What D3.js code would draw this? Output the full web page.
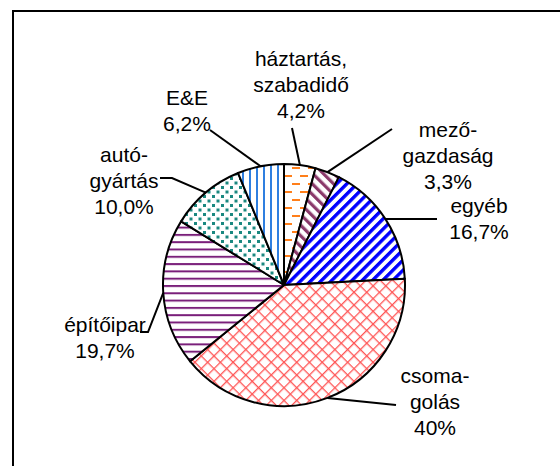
<!DOCTYPE html>
<html>
<head>
<meta charset="utf-8">
<script src="https://cdn.jsdelivr.net/npm/d3@7"></script>
<style>
  body { margin: 0; background: #fff; }
  text { font-family: 'Liberation Sans', Arial, sans-serif; fill: #000; }
</style>
</head>
<body>
<div id="chart"></div>
<script>
// slices clockwise from 12 o'clock
var categories = ['háztartás, szabadidő', 'mezőgazdaság', 'egyéb', 'csomagolás', 'építőipar', 'autógyártás', 'E&E']
var values = [4.2, 3.3, 16.7, 40, 19.7, 10.0, 6.2]
var labelLines = [
  ['háztartás,', 'szabadidő', '4,2%'],
  ['mező-', 'gazdaság', '3,3%'],
  ['egyéb', '16,7%'],
  ['csoma-', 'golás', '40%'],
  ['építőipar', '19,7%'],
  ['autó-', 'gyártás', '10,0%'],
  ['E&E', '6,2%']
]

var width = 560
var height = 466
var cx = 284
var cy = 285
var radius = 121
var fontSize = 21
var lineStep = 26

// label placement: text centre x, first baseline y, leader points from label side
var labelLayout = [
  { x: 301, y: 66, leader: [[292, 128]] },
  { x: 448, y: 137, leader: [[392, 129]] },
  { x: 479, y: 213, leader: [[437, 219]] },
  { x: 435, y: 383, leader: [[396, 405]] },
  { x: 105, y: 332, leader: [[140, 332], [148, 332]] },
  { x: 124, y: 162, leader: [[160, 178], [172, 178]] },
  { x: 187, y: 105, leader: [[210, 130]] }
]

var svg = d3.select('#chart').append('svg')
  .attr('width', width)
  .attr('height', height)

var defs = svg.append('defs')

function makePattern (id, w, h) {
  var p = defs.append('pattern')
    .attr('id', id)
    .attr('patternUnits', 'userSpaceOnUse')
    .attr('width', w)
    .attr('height', h)
  p.append('rect').attr('width', w).attr('height', h).attr('fill', '#fff')
  return p
}

// háztartás: orange horizontal dashes
var p0 = makePattern('p0', 16, 16)
p0.append('rect').attr('x', 0).attr('y', 2).attr('width', 8).attr('height', 2).attr('fill', '#ff7f1a')
p0.append('rect').attr('x', 8).attr('y', 10).attr('width', 8).attr('height', 2).attr('fill', '#ff7f1a')

// mezőgazdaság: wide downward diagonal (\)
var p1 = makePattern('p1', 7.5, 7.5)
p1.attr('patternTransform', 'rotate(-45)')
p1.append('rect').attr('x', 0).attr('y', 0).attr('width', 3.2).attr('height', 7.5).attr('fill', '#8b3a6b')

// egyéb: wide upward diagonal (/)
var p2 = makePattern('p2', 7.2, 7.2)
p2.attr('patternTransform', 'rotate(45)')
p2.append('rect').attr('x', 0).attr('y', 0).attr('width', 3.4).attr('height', 7.2).attr('fill', '#0000ff')

// csomagolás: red diagonal crosshatch
var p3 = makePattern('p3', 9, 9)
p3.attr('patternTransform', 'rotate(45)')
p3.append('rect').attr('x', 0).attr('y', 0).attr('width', 1.3).attr('height', 9).attr('fill', '#ff5555')
p3.append('rect').attr('x', 0).attr('y', 0).attr('width', 9).attr('height', 1.3).attr('fill', '#ff5555')

// építőipar: purple horizontal lines
var p4 = makePattern('p4', 8, 7.3)
p4.append('rect').attr('x', 0).attr('y', 0).attr('width', 8).attr('height', 2).attr('fill', '#7a1f7a')

// autógyártás: teal dots
var p5 = makePattern('p5', 9, 9)
p5.append('rect').attr('x', 0).attr('y', 0).attr('width', 3).attr('height', 3).attr('fill', '#1a8880')
p5.append('rect').attr('x', 4.5).attr('y', 4.5).attr('width', 3).attr('height', 3).attr('fill', '#1a8880')

// E&E: blue vertical lines
var p6 = makePattern('p6', 7, 8)
p6.append('rect').attr('x', 0).attr('y', 0).attr('width', 2).attr('height', 8).attr('fill', '#2f7fe0')

// frame, cut off by the window on the right and bottom
svg.append('rect')
  .attr('x', 13)
  .attr('y', 11)
  .attr('width', width)
  .attr('height', height)
  .attr('fill', 'none')
  .attr('stroke', '#000')
  .attr('stroke-width', 2)

var pie = d3.pie().sort(null).value(function (d) { return d })
var arcs = pie(values)

var arc = d3.arc().innerRadius(0).outerRadius(radius)

var g = svg.append('g').attr('transform', 'translate(' + cx + ',' + cy + ')')

g.selectAll('path.slice')
  .data(arcs)
  .enter().append('path')
  .attr('class', 'slice')
  .attr('d', arc)
  .attr('fill', function (d, i) { return 'url(#p' + i + ')' })
  .attr('stroke', '#000')
  .attr('stroke-width', 2)
  .attr('stroke-linejoin', 'round')

// leader lines from slice mid-angle on the rim to the label
var line = d3.line()
arcs.forEach(function (d, i) {
  var a = (d.startAngle + d.endAngle) / 2
  var rim = [cx + radius * Math.sin(a), cy - radius * Math.cos(a)]
  var pts = labelLayout[i].leader.concat([rim])
  svg.append('path')
    .attr('d', line(pts))
    .attr('fill', 'none')
    .attr('stroke', '#000')
    .attr('stroke-width', 2)
})

labelLines.forEach(function (lines, i) {
  var t = svg.append('text')
    .attr('text-anchor', 'middle')
    .attr('font-size', fontSize)
  lines.forEach(function (s, j) {
    t.append('tspan')
      .attr('x', labelLayout[i].x)
      .attr('y', labelLayout[i].y + j * lineStep)
      .text(s)
  })
})
</script>
</body>
</html>
